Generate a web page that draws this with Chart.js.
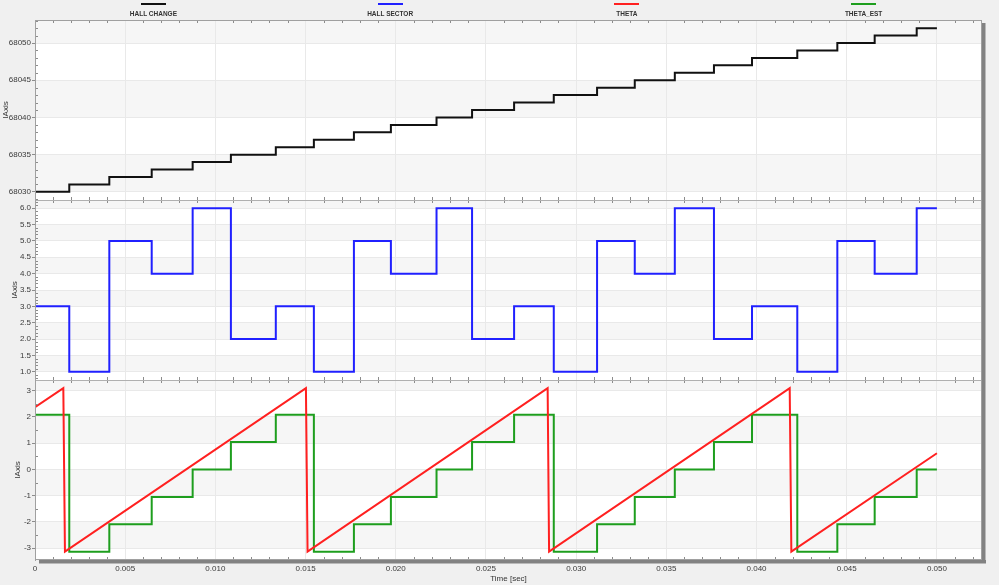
<!DOCTYPE html>
<html lang="en">
<head>
  <meta charset="UTF-8" />
  <title>Hall / Theta</title>
  <script src="https://cdn.jsdelivr.net/npm/chart.js"></script>
  <style>
    body {
      margin: 0;
      background-color: #f0f0f0;
      font-family: "Liberation Sans", Arial, sans-serif;
    }

    .wrap {
      position: relative;
      width: 999px;
      height: 585px;
    }

    .legend {
      position: absolute;
      top: 0;
      left: 35px;
      width: 947px;
      display: flex;
    }

    .legend .item {
      flex: 1;
      text-align: center;
    }

    .legend .line {
      width: 25px;
      height: 2px;
      margin: 3px auto 0;
    }

    .legend .label {
      margin-top: 5px;
      font-size: 6.5px;
      font-weight: bold;
      line-height: 8px;
      color: #333;
    }

    canvas {
      position: absolute;
      top: 0;
      left: 0;
    }
  </style>
</head>
<body>
  <div class="wrap">
    <canvas id="chart" width="999" height="585"></canvas>
    <div class="legend" id="legend"></div>
  </div>

  <script>
    // time where each hall segment begins (sec), end of record
    const hallTimes = [0, 0.00190, 0.00412, 0.00647, 0.00874, 0.01086, 0.01335, 0.01546, 0.01768,
      0.01973, 0.02226, 0.02423, 0.02656, 0.02876, 0.03116, 0.03325, 0.03547, 0.03764,
      0.03975, 0.04226, 0.04448, 0.04655, 0.04888];
    const tEnd = 0.05;

    const hallChange = [68030, 68031, 68032, 68033, 68034, 68035, 68036, 68037, 68038, 68039,
      68040, 68041, 68042, 68043, 68044, 68045, 68046, 68047, 68048, 68049, 68050, 68051, 68052];
    const hallSector = [3, 1, 5, 4, 6, 2, 3, 1, 5, 4, 6, 2, 3, 1, 5, 4, 6, 2, 3, 1, 5, 4, 6];
    const thetaEst = [2.09, -3.14, -2.09, -1.05, 0, 1.05, 2.09, -3.14, -2.09, -1.05, 0, 1.05,
      2.09, -3.14, -2.09, -1.05, 0, 1.05, 2.09, -3.14, -2.09, -1.05, 0];

    // sawtooth corners of THETA
    const thetaTimes = [0, 0.00157, 0.00166, 0.01502, 0.01511, 0.02842, 0.02850, 0.04184, 0.04193, 0.05];
    const thetaValues = [2.37, 3.10, -3.13, 3.10, -3.13, 3.10, -3.13, 3.10, -3.13, 0.62];

    const seriesNames = ["HALL CHANGE", "HALL SECTOR", "THETA", "THETA_EST"];
    const seriesColors = ["#111111", "#2020ff", "#ff2020", "#1e9e1e"];

    const xTicks = [0, 0.005, 0.010, 0.015, 0.020, 0.025, 0.030, 0.035, 0.040, 0.045, 0.050];
    const y1Ticks = [68030, 68035, 68040, 68045, 68050];
    const y2Ticks = [1.0, 1.5, 2.0, 2.5, 3.0, 3.5, 4.0, 4.5, 5.0, 5.5, 6.0];
    const y3Ticks = [-3, -2, -1, 0, 1, 2, 3];

    const tickFont = { family: "'Liberation Sans', Arial, sans-serif", size: 8 };
    const bandColor = "#f6f6f6";
    const gridColor = "#e9e9e9";

    function stepPoints(values) {
      const pts = values.map((v, i) => ({ x: hallTimes[i], y: v }));
      pts.push({ x: tEnd, y: values[values.length - 1] });
      return pts;
    }

    // legend above the plot
    const legendEl = document.getElementById('legend');
    seriesNames.forEach((name, i) => {
      const item = document.createElement('div');
      item.className = 'item';
      item.innerHTML = '<div class="line" style="background:' + seriesColors[i] + '"></div>' +
        '<div class="label">' + name + '</div>';
      legendEl.appendChild(item);
    });

    const yIds = ['y1', 'y2', 'y3'];

    const framePlugin = {
      id: 'frame',
      beforeDraw(chart) {
        const { ctx, chartArea: a } = chart;
        ctx.save();
        ctx.fillStyle = '#ffffff';
        ctx.fillRect(a.left, a.top, a.right - a.left, a.bottom - a.top);
        ctx.fillStyle = bandColor;
        yIds.forEach(id => {
          const s = chart.scales[id];
          const vals = s.ticks.map(t => t.value);
          const n = vals.length - 1;
          for (let i = 0; i <= n; i += 2) {
            const lo = vals[i];
            const hi = i < n ? vals[i + 1] : s.max;
            const top = s.getPixelForValue(hi);
            const bot = s.getPixelForValue(lo);
            ctx.fillRect(a.left, top, a.right - a.left, bot - top);
          }
        });
        ctx.restore();
      },
      afterDatasetsDraw(chart) {
        const { ctx, chartArea: a, scales } = chart;
        const x = scales.x;
        ctx.save();
        ctx.lineWidth = 1;
        ctx.strokeStyle = '#8c8c8c';
        ctx.beginPath();
        // small x ticks on top and bottom of every panel
        for (let k = 1; k <= 52; k++) {
          if (k % 5 === 0) continue;
          const px = Math.round(x.getPixelForValue(k / 1000)) + 0.5;
          yIds.forEach(id => {
            const s = scales[id];
            ctx.moveTo(px, s.top);
            ctx.lineTo(px, s.top + 3);
            ctx.moveTo(px, s.bottom);
            ctx.lineTo(px, s.bottom - 3);
          });
        }
        // small y ticks
        const minorY = [
          ['y1', 68029, 68053, 1, 5],
          ['y2', 8, 62, 0.1, 5],
          ['y3', -6, 6, 0.5, 2]
        ];
        minorY.forEach(([id, k0, k1, mult, every]) => {
          const s = scales[id];
          for (let k = k0; k <= k1; k++) {
            if (k % every === 0) continue;
            const v = k * mult;
            const py = Math.round(s.getPixelForValue(v)) + 0.5;
            if (py < s.top || py > s.bottom) continue;
            ctx.moveTo(a.left, py);
            ctx.lineTo(a.left + 3, py);
          }
        });
        ctx.stroke();

        // separators between panels
        ctx.strokeStyle = '#b0b0b0';
        ctx.beginPath();
        ['y1', 'y2'].forEach(id => {
          const py = Math.round(scales[id].bottom) + 0.5;
          ctx.moveTo(a.left, py);
          ctx.lineTo(a.right, py);
        });
        ctx.stroke();

        // outer frame with shadow
        ctx.strokeStyle = '#a0a0a0';
        ctx.strokeRect(a.left + 0.5, a.top + 0.5, a.right - a.left - 1, a.bottom - a.top - 1);
        ctx.fillStyle = '#828282';
        ctx.fillRect(a.right, a.top + 3, 3.5, a.bottom - a.top);
        ctx.fillRect(a.left + 4, a.bottom, a.right - a.left, 3.5);
        ctx.restore();
      }
    };

    const yAxis = (weight, min, max, tickVals, fmt, titlePad) => ({
      type: 'linear',
      position: 'left',
      stack: 'panels',
      stackWeight: 1,
      weight: weight,
      min: min,
      max: max,
      afterFit(scale) { scale.width = 35; },
      afterBuildTicks(scale) { scale.ticks = tickVals.map(v => ({ value: v })); },
      border: { display: true, color: '#a0a0a0' },
      grid: { color: gridColor, tickLength: 3, tickColor: '#8c8c8c' },
      ticks: {
        autoSkip: false,
        padding: 1,
        color: '#3a3a3a',
        font: tickFont,
        callback: v => fmt(v)
      },
      title: {
        display: true,
        text: 'IAxis',
        color: '#333',
        font: tickFont,
        padding: { top: titlePad, bottom: 0 }
      }
    });

    const ctx = document.getElementById('chart').getContext('2d');
    new Chart(ctx, {
      type: 'line',
      data: {
        datasets: [
          { label: seriesNames[0], data: stepPoints(hallChange), yAxisID: 'y1', borderColor: seriesColors[0], stepped: true },
          { label: seriesNames[1], data: stepPoints(hallSector), yAxisID: 'y2', borderColor: seriesColors[1], stepped: true },
          { label: seriesNames[2], data: thetaTimes.map((t, i) => ({ x: t, y: thetaValues[i] })), yAxisID: 'y3', borderColor: seriesColors[2] },
          { label: seriesNames[3], data: stepPoints(thetaEst), yAxisID: 'y3', borderColor: seriesColors[3], stepped: true }
        ]
      },
      options: {
        responsive: false,
        animation: false,
        events: [],
        layout: { padding: { top: 20, right: 17, bottom: 0, left: 0 } },
        elements: {
          point: { radius: 0 },
          line: { borderWidth: 2, tension: 0 }
        },
        plugins: {
          legend: { display: false },
          tooltip: { enabled: false }
        },
        scales: {
          x: {
            type: 'linear',
            min: 0,
            max: 0.0525,
            afterFit(scale) { scale.height = 25; },
            afterBuildTicks(scale) { scale.ticks = xTicks.map(v => ({ value: v })); },
            border: { display: false },
            grid: { color: gridColor, drawTicks: false },
            ticks: {
              autoSkip: false,
              maxRotation: 0,
              padding: 4,
              color: '#3a3a3a',
              font: tickFont,
              callback: v => (v === 0 ? '0' : v.toFixed(3))
            },
            title: {
              display: true,
              text: 'Time [sec]',
              color: '#333',
              font: tickFont,
              padding: { top: 0, bottom: 1 }
            }
          },
          y1: yAxis(3, 68028.9, 68053.1, y1Ticks, v => String(Math.round(v)), 1),
          y2: yAxis(2, 0.75, 6.25, y2Ticks, v => v.toFixed(1), 9.5),
          y3: yAxis(1, -3.45, 3.41, y3Ticks, v => String(Math.round(v)), 13)
        }
      },
      plugins: [framePlugin]
    });
  </script>
</body>
</html>
